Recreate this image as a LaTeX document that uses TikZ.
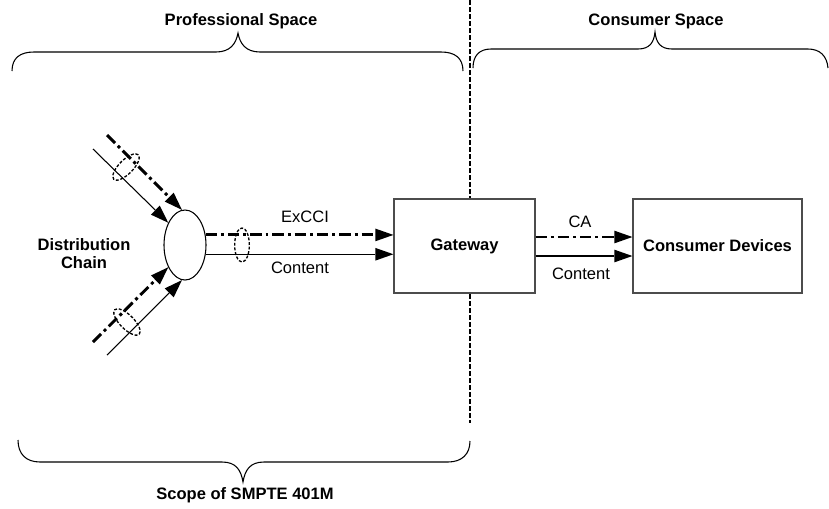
\documentclass[tikz,border=0pt]{standalone}
\usepackage{fontspec}
\setmainfont{Liberation Sans}
\usetikzlibrary{arrows.meta,shapes.geometric}
\begin{document}
\begin{tikzpicture}[x=0.75pt,y=-0.75pt,
  lbl/.style={font=\fontsize{12.4}{14}\selectfont, inner sep=0pt},
  bold/.style={font=\fontsize{12.4}{13.5}\selectfont\bfseries, inner sep=0pt, align=center},
  blockbox/.style={draw=black!70, line width=0.9pt, fill=white, minimum height=70.5pt,
    font=\fontsize{12.4}{14}\selectfont\bfseries},
  thinline/.style={line width=0.8pt},
  ddline/.style={line width=2.2pt, dash pattern=on 8.5pt off 3pt on 2.2pt off 3pt},
  tipped/.style={-{Triangle[length=13.5pt,width=9.5pt,line width=0pt]}},
  ring/.style={ellipse, draw, dash pattern=on 2.2pt off 1.3pt, line width=1pt, inner sep=0pt},
  bracestroke/.style={line width=0.8pt},
  divider/.style={line width=1.5pt, dash pattern=on 3.75pt off 1.5pt}]
\useasboundingbox (0,0) rectangle (829,508);

% divider
\coordinate (dtop) at (470,0);
\coordinate (dbot) at (470,423);
\draw[divider] (dtop) -- (dbot);

% braces
\draw[bracestroke] (12,71) .. controls (12,58) and (20,52) .. (34,52) -- (216,52)
  .. controls (230,52) and (236,44) .. (238,33)
  .. controls (240,44) and (246,52) .. (260,52) -- (441,52)
  .. controls (455,52) and (463,58) .. (463,71);
\draw[bracestroke] (473,68) .. controls (473,56) and (479,49) .. (491,49) -- (638,49)
  .. controls (650,49) and (654,42) .. (655,32)
  .. controls (656,42) and (660,49) .. (672,49) -- (808,49)
  .. controls (820,49) and (827,56) .. (828,68);
\draw[bracestroke] (18,440) .. controls (18,454) and (26,462) .. (40,462) -- (222,462)
  .. controls (236,462) and (241,470) .. (243,482)
  .. controls (245,470) and (250,462) .. (264,462) -- (448,462)
  .. controls (462,462) and (470,454) .. (470,441);

\node[bold] (prof) at (241,21) {Professional Space};
\node[bold] (cons) at (656,21) {Consumer Space};
\node[bold] (scope) at (245,495) {Scope of SMPTE 401M};
\node[bold] (dist) at (84,254) {Distribution\\Chain};

% blocks
\node[ellipse, draw, line width=0.8pt, minimum width=31.5pt, minimum height=52.5pt, inner sep=0pt] (hub) at (185,245) {};
\node[blockbox, minimum width=105.75pt] (gw) at (464.5,246) {Gateway};
\node[blockbox, minimum width=126.75pt] (cd) at (717.5,246) {Consumer Devices};

% inputs
\coordinate (ua) at (107,135);
\coordinate (ub) at (93,149);
\coordinate (la) at (93,342);
\coordinate (lb) at (107,355);
\draw[ddline,tipped] (ua) -- (hub.95);
\draw[thinline,tipped] (ub) -- (hub.127);
\draw[ddline,tipped] (la) -- (hub.233);
\draw[thinline,tipped] (lb) -- (hub.265);

% hub to gateway
\draw[ddline,tipped] (hub.26) -- (hub.26 -| gw.west);
\draw[thinline,tipped] (hub.-24) -- (hub.-24 -| gw.west);

% gateway to consumer devices
\draw[ddline,tipped] ([yshift=6.75pt]gw.east) -- ([yshift=6.75pt]cd.west);
\draw[thinline,tipped] ([yshift=-7.5pt]gw.east) -- ([yshift=-7.5pt]cd.west);

% rings
\node[ring, minimum width=26pt, minimum height=10.5pt, rotate=45] (ringu) at (126,167) {};
\node[ring, minimum width=26pt, minimum height=10.5pt, rotate=-45] (ringl) at (127,322) {};
\node[ring, minimum width=11pt, minimum height=25.5pt] (ringm) at (242,245) {};

% labels
\node[lbl] (excci) at (305,217) {ExCCI};
\node[lbl] (cont1) at (300,268) {Content};
\node[lbl] (ca) at (580,222) {CA};
\node[lbl] (cont2) at (581,274) {Content};
\end{tikzpicture}
\end{document}
